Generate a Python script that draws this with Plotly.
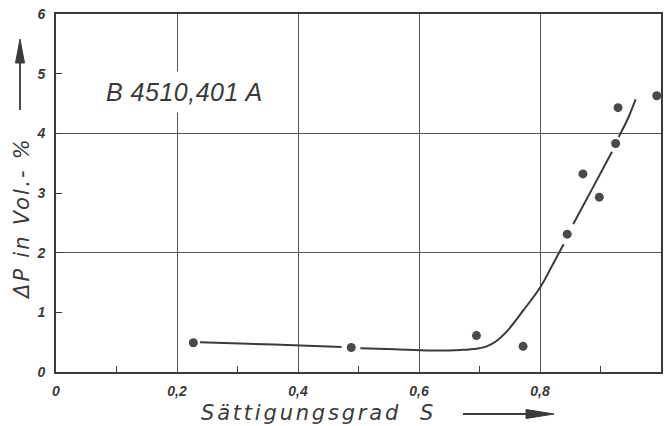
import plotly.graph_objects as go

# measured points (Sättigungsgrad S, ΔP in Vol.-%)
S_points = [0.227, 0.488, 0.695, 0.772, 0.845, 0.871, 0.898, 0.925, 0.929, 0.993]
dP_points = [0.49, 0.41, 0.61, 0.43, 2.31, 3.32, 2.93, 3.83, 4.43, 4.63]

# hand-drawn fitted curve (segments separated by None where the pen breaks)
curve_S = [0.238, 0.36, 0.472, None,
           0.503, 0.56, 0.62, 0.67, 0.695, 0.712, 0.728, 0.746, 0.773, 0.801, 0.82, 0.839, None,
           0.855, 0.89, 0.919, None,
           0.930, 0.945, 0.958]
curve_dP = [0.50, 0.46, 0.42, None,
            0.40, 0.38, 0.36, 0.37, 0.39, 0.43, 0.52, 0.69, 1.04, 1.43, 1.78, 2.14, None,
            2.48, 3.14, 3.69, None,
            3.94, 4.24, 4.57]

x_tickvals = [0, 0.2, 0.4, 0.6, 0.8, 1.0]
x_ticktext = ["0", "0,2", "0,4", "0,6", "0,8", "1,0"]
x_minor = [0.1, 0.3, 0.5, 0.7, 0.9]
y_tickvals = [0, 1, 2, 3, 4, 5, 6]
y_ticktext = ["0", "1", "2", "3", "4", "5", "6"]
y_grid = [2, 4]

W, H = 668, 426
L, R, T, B = 56, 7, 14, 54
PW, PH = W - L - R, H - T - B


def px(xp):
    return (xp - L) / PW


def py(yp):
    return (H - B - yp) / PH


INK = "#3a3a3a"
tick_font = dict(family="Liberation Sans", size=14, color=INK, style="italic", weight="bold")
title_font = dict(family="DejaVu Sans", size=21, color=INK, style="italic", weight=300)

fig = go.Figure()
fig.add_trace(go.Scatter(
    x=curve_S, y=curve_dP, mode="lines",
    line=dict(color=INK, width=2, shape="spline", smoothing=1.0),
    connectgaps=False, hoverinfo="skip", showlegend=False))
fig.add_trace(go.Scatter(
    x=S_points, y=dP_points, mode="markers",
    marker=dict(color="#4a4a4a", size=9),
    cliponaxis=False, showlegend=False))

fig.update_xaxes(
    range=[0, 1], tickvals=x_tickvals, ticktext=x_ticktext,
    ticks="", showgrid=True, gridcolor="#555555", gridwidth=1,
    showline=True, linecolor=INK, linewidth=2, mirror=True,
    tickfont=tick_font, ticklabelstandoff=5, zeroline=False, automargin=False,
    minor=dict(tickvals=x_minor, ticks="inside", ticklen=6, tickcolor=INK,
               tickwidth=1.2, showgrid=False))
fig.update_yaxes(
    range=[0, 6], tickvals=y_tickvals, ticktext=y_ticktext,
    ticks="inside", ticklen=6, tickcolor=INK, tickwidth=1.2,
    showgrid=False, showline=True, linecolor=INK, linewidth=2, mirror=True,
    tickfont=tick_font, ticklabelstandoff=6, zeroline=False, automargin=False,
    minor=dict(tickvals=y_grid, ticks="", showgrid=True,
               gridcolor="#555555", gridwidth=1))

annotations = [
    dict(text='<span style="letter-spacing:0.5px">B 4510,401 A</span>',
         x=px(184), y=py(92), xref="paper", yref="paper",
         xanchor="center", yanchor="middle",
         showarrow=False, font=dict(family="Liberation Sans", size=25, color=INK,
                                    style="italic"),
         bgcolor="white", borderpad=6),
    dict(text='<span style="letter-spacing:2.8px">Sättigungsgrad  S</span>',
         x=px(318), y=py(413), xref="paper", yref="paper", showarrow=False,
         font=title_font, xanchor="center", yanchor="middle"),
    dict(text='<span style="letter-spacing:2.2px">ΔP in Vol.- %</span>',
         x=px(22), y=py(219), xref="paper", yref="paper", showarrow=False,
         textangle=-90, font=title_font, xanchor="center", yanchor="middle"),
]

shapes = [
    # x arrow
    dict(type="line", xref="paper", yref="paper", x0=px(463), y0=py(414),
         x1=px(530), y1=py(414), line=dict(color=INK, width=1.8)),
    dict(type="path", xref="paper", yref="paper",
         path=f"M {px(526)},{py(409.5)} L {px(554)},{py(414)} L {px(526)},{py(418.5)} Z",
         fillcolor=INK, line=dict(color=INK, width=1)),
    # y arrow
    dict(type="line", xref="paper", yref="paper", x0=px(20), y0=py(110),
         x1=px(20), y1=py(62), line=dict(color=INK, width=1.8)),
    dict(type="path", xref="paper", yref="paper",
         path=f"M {px(15.5)},{py(63)} L {px(20)},{py(39)} L {px(24.5)},{py(63)} Z",
         fillcolor=INK, line=dict(color=INK, width=1)),
]

fig.update_layout(
    width=W, height=H, margin=dict(l=L, r=R, t=T, b=B, autoexpand=False),
    paper_bgcolor="white", plot_bgcolor="white",
    annotations=annotations, shapes=shapes, showlegend=False)

fig.write_html("out.html", config={"displayModeBar": False},
               post_script="document.body.style.margin='0';"
                           "document.body.style.overflow='hidden';")
